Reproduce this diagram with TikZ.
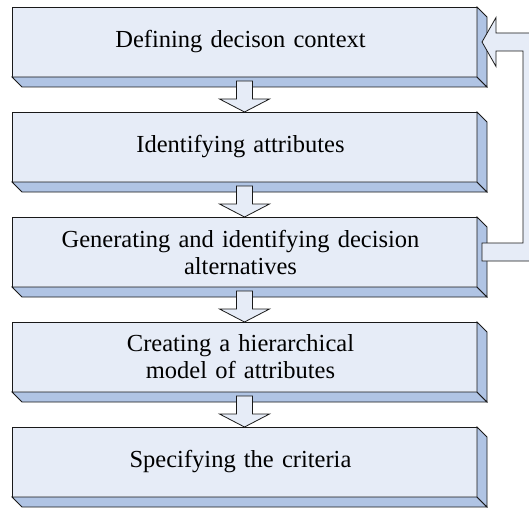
\documentclass[tikz,border=0pt]{standalone}
\usepackage{fontspec}
\setmainfont{Liberation Serif}
\usetikzlibrary{calc}
\definecolor{facefill}{RGB}{230,236,247}
\definecolor{sidefill}{RGB}{176,196,228}
\definecolor{edgeline}{RGB}{25,25,25}
\tikzset{
  stage/.style={draw=edgeline, line width=0.8pt, fill=facefill,
    minimum width=465pt, minimum height=70pt, inner xsep=4pt, inner ysep=0pt,
    outer sep=0pt, text width=457pt,
    execute at begin node={\leftskip=0pt plus 1fil\rightskip=8pt plus 1fil
      \parfillskip=0pt\relax},
    font=\fontsize{24.5}{27}\selectfont},
  slab/.style={draw=edgeline, line width=0.8pt, fill=sidefill, line join=miter},
  blockarrow/.style={draw=edgeline, line width=0.8pt, fill=facefill, line join=miter},
}
% bevelled depth drawn below and to the right of a stage box
\newcommand\stagedepth[1]{%
  \draw[slab] (#1.south west) -- (#1.south east) -- ++(10,-10)
    -- ($(#1.south west)+(10,-10)$) -- cycle;
  \draw[slab] (#1.north east) -- ++(10,-10) -- ($(#1.south east)+(10,-10)$)
    -- (#1.south east) -- cycle;
}
% hollow block arrow from one stage down to the next
\newcommand\stagearrow[2]{%
  \draw[blockarrow] ($(#1.south)+(-8,-4)$) -- ($(#1.south)+(8,-4)$)
    -- ($(#1.south)+(8,-22)$) -- ($(#1.south)+(25,-22)$) -- (#2.north)
    -- ($(#1.south)+(-25,-22)$) -- ($(#1.south)+(-8,-22)$) -- cycle;
}
\begin{document}
\begin{tikzpicture}[x=1pt,y=1pt]
\useasboundingbox (0,0) rectangle (529,-508);

\node[stage] (s1) at (244.5,-42)  {Defining decison context};
\node[stage] (s2) at (244.5,-147) {Identifying attributes};
\node[stage] (s3) at (244.5,-252) {Generating and identifying decision\\alternatives};
\node[stage] (s4) at (244.5,-357) {Creating a hierarchical\\model of attributes};
\node[stage] (s5) at (244.5,-462) {Specifying the criteria};

\foreach \n in {s1,s2,s3,s4,s5} {\stagedepth{\n}}

\stagearrow{s1}{s2}
\stagearrow{s2}{s3}
\stagearrow{s3}{s4}
\stagearrow{s4}{s5}

% feedback arrow from the third stage back to the first
\coordinate (fbtip) at ($(s1.east)+(5,0)$);
\coordinate (fbtail) at ($(s3.east)+(5,0)$);
\draw[blockarrow] let \p1=(fbtip), \p2=(fbtail) in
  (fbtip) -- (\x1+14,\y1+24.5) -- (\x1+14,\y1+9) -- (541,\y1+9)
  -- (541,\y2-9) -- (fbtail |- 0,\y2-9) -- (fbtail |- 0,\y2+9)
  -- (523,\y2+9) -- (523,\y1-9) -- (\x1+14,\y1-9) -- (\x1+14,\y1-24.5) -- cycle;
\end{tikzpicture}
\end{document}
